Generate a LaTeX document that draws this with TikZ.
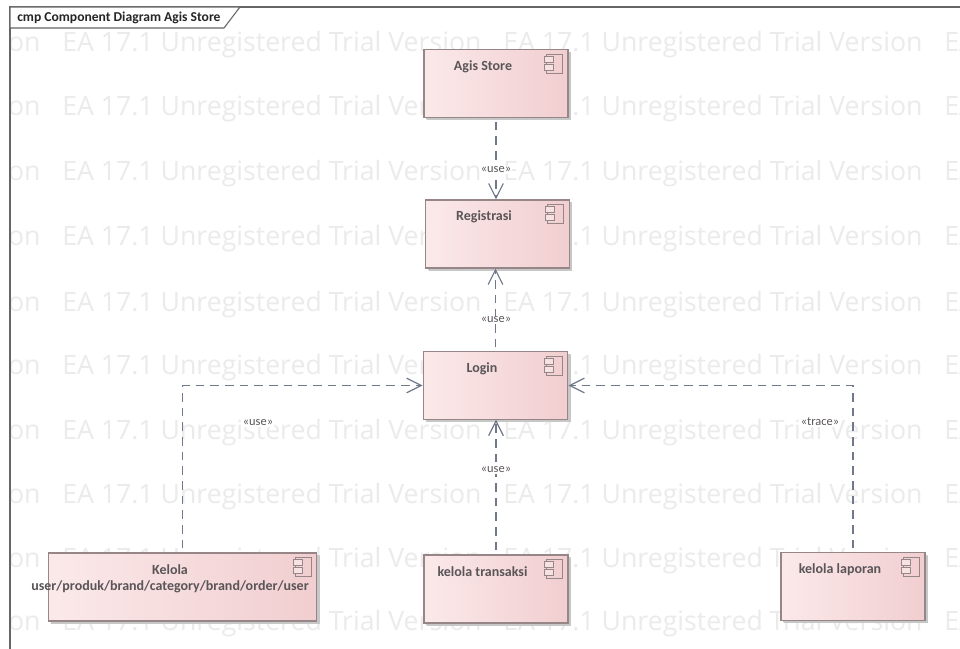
\documentclass[tikz,border=0pt]{standalone}
\usepackage{fontspec}
\setmainfont{Carlito}
\newfontfamily\wmfont{Open Sans}
\usetikzlibrary{arrows.meta,shadows}
\definecolor{wmgray}{HTML}{EBEBEB}
\definecolor{conn}{HTML}{70788C}
\definecolor{boxline}{HTML}{968687}
\definecolor{txt}{HTML}{5A5558}
\tikzset{
  x=0.75pt,y=-0.75pt,
  comp/.style={draw=boxline,line width=0.8pt,left color=compL,right color=compR,rectangle,inner sep=0pt,
    copy shadow={shadow xshift=2pt,shadow yshift=-2pt,fill=black!22,draw=none,left color=black!22,right color=black!22}},
  complabel/.style={font=\fontsize{10.5pt}{12pt}\selectfont\bfseries,text=txt,align=center,inner sep=0pt},
  wm/.style={font=\wmfont\fontsize{20pt}{24pt}\selectfont,text=wmgray,anchor=west,inner sep=0pt},
  dep/.style={draw=conn,line width=0.9pt,dash pattern=on 6.5pt off 4.5pt,shorten <=3pt,-{Straight Barb[length=11pt,width=11pt,line width=0.9pt]}},
  deplabel/.style={font=\fontsize{9.3pt}{11pt}\selectfont,text=txt,fill=white,inner xsep=1pt,inner ysep=1pt},
  icon/.style={draw=boxline,line width=0.6pt},
  frameline/.style={draw=black!60,line width=0.8pt},
}
\definecolor{compL}{HTML}{FBE9EA}
\definecolor{compR}{HTML}{F1CED0}
\newcommand{\compicon}[1]{%
  \begin{scope}[shift={(#1.north east)}]
    \draw[icon] (-22,5) rectangle (-6,24);
    \draw[icon,fill=compR!60!white] (-24,7) rectangle (-15,13);
    \draw[icon,fill=compR!60!white] (-24,15) rectangle (-15,21);
  \end{scope}}
\begin{document}
\begin{tikzpicture}
\useasboundingbox (0,0) rectangle (960,649);
\fill[white] (0,0) rectangle (960,649);
% watermark
\begin{scope}
  \clip (10,0) rectangle (960,649);
  \foreach \rowy in {45,109,174,239,305,368,433,497,561,624}{
    \node[wm] at (-379,\rowy) {EA 17.1 Unregistered Trial Version};
    \node[wm] at (62,\rowy) {EA 17.1 Unregistered Trial Version};
    \node[wm] at (503,\rowy) {EA 17.1 Unregistered Trial Version};
    \node[wm] at (944,\rowy) {EA 17.1 Unregistered Trial Version};
  }
\end{scope}
% frame
\draw[frameline] (10,649) -- (10,7) -- (960,7);
\draw[frameline,fill=white] (10,7) -- (240,7) -- (224,28) -- (10,28) -- cycle;
\node[font=\fontsize{10.2pt}{11pt}\selectfont\bfseries,text=black!85,anchor=west,inner sep=0pt] (title) at (17,18) {cmp Component Diagram Agis Store};
% components
\node[comp,minimum width=108pt,minimum height=50.5pt] (agis) at (496,83.5) {};
\node[comp,minimum width=107.5pt,minimum height=51pt] (reg) at (497.5,234) {};
\node[comp,minimum width=108.5pt,minimum height=50.5pt] (login) at (495.5,385.5) {};
\node[comp,minimum width=201.5pt,minimum height=51pt] (kelola) at (182.5,587) {};
\node[comp,minimum width=108pt,minimum height=51pt] (trans) at (496,589) {};
\node[comp,minimum width=108pt,minimum height=50.5pt] (lap) at (853,586.5) {};
\compicon{agis}\compicon{reg}\compicon{login}\compicon{kelola}\compicon{trans}\compicon{lap}
\node[complabel] (agislbl) at (483,67) {Agis Store};
\node[complabel] (reglbl) at (484,217) {Registrasi};
\node[complabel] (loginlbl) at (482,369) {Login};
\node[complabel] (kelolalbl) at (170,578.5) {Kelola\\user/produk/brand/category/brand/order/user};
\node[complabel] (translbl) at (482.5,572) {kelola transaksi};
\node[complabel] (laplbl) at (840,570) {kelola laporan};
% connectors
\draw[dep] (agis.south) -- (agis.south |- reg.north);
\draw[dep] (login.north) -- (login.north |- reg.south);
\draw[dep] (trans.north) -- (trans.north |- login.south);
\draw[dep] (kelola.north) |- (login.west);
\draw[dep] (lap.north) |- (login.east);
\node[deplabel] (l1) at (496,170) {«use»};
\node[deplabel] (l2) at (496,320) {«use»};
\node[deplabel] (l3) at (496,470) {«use»};
\node[deplabel] (l4) at (258,423) {«use»};
\node[deplabel] (l5) at (820,422) {«trace»};
\end{tikzpicture}
\end{document}
